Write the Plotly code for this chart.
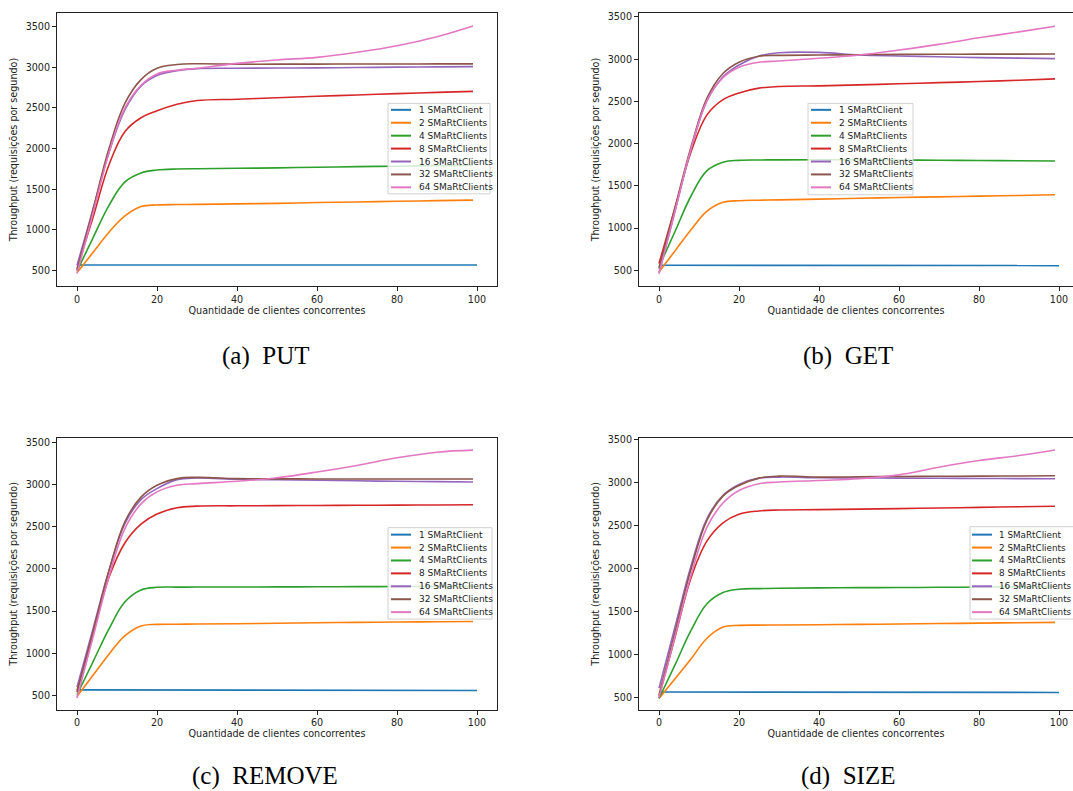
import plotly.graph_objects as go

W, H = 1073, 791

# ---------------- data ----------------
series_names = ["1 SMaRtClient", "2 SMaRtClients", "4 SMaRtClients", "8 SMaRtClients",
                "16 SMaRtClients", "32 SMaRtClients", "64 SMaRtClients"]
colors = ["#1f77b4", "#ff7f0e", "#2ca02c", "#d62728", "#9467bd", "#8c564b", "#e377c2"]

x_one = [0, 100]
x_many = [0, 4, 8, 12, 16, 20, 25, 30, 40, 50, 60, 70, 80, 90, 99]

# (a) PUT
put_1 = [565, 565]
put_2 = [470, 720, 970, 1170, 1285, 1305, 1310, 1312, 1318, 1325, 1335, 1342, 1350, 1358, 1365]
put_4 = [490, 900, 1300, 1590, 1700, 1735, 1748, 1752, 1757, 1762, 1770, 1777, 1783, 1789, 1794]
put_8 = [520, 1150, 1800, 2210, 2380, 2465, 2545, 2592, 2608, 2626, 2645, 2660, 2677, 2692, 2705]
put_16 = [560, 1250, 1950, 2480, 2770, 2900, 2960, 2985, 2990, 2992, 2994, 2998, 3003, 3007, 3010]
put_32 = [500, 1250, 2000, 2560, 2850, 2990, 3035, 3045, 3040, 3040, 3041, 3042, 3042, 3043, 3043]
put_64 = [460, 1200, 1950, 2500, 2780, 2920, 2965, 2990, 3050, 3092, 3124, 3186, 3267, 3378, 3510]

# (b) GET
get_1 = [560, 556]
get_2 = [480, 730, 980, 1200, 1305, 1324, 1330, 1334, 1343, 1353, 1363, 1370, 1378, 1386, 1394]
get_4 = [540, 960, 1380, 1680, 1780, 1802, 1806, 1808, 1810, 1808, 1806, 1803, 1800, 1797, 1794]
get_8 = [580, 1240, 1900, 2340, 2520, 2600, 2657, 2676, 2684, 2696, 2708, 2722, 2735, 2750, 2767]
get_16 = [470, 1200, 1930, 2510, 2790, 2931, 3037, 3076, 3080, 3049, 3037, 3028, 3018, 3012, 3006]
get_32 = [520, 1240, 1960, 2540, 2830, 2963, 3035, 3045, 3049, 3052, 3057, 3058, 3059, 3060, 3061]
get_64 = [460, 1200, 1940, 2510, 2780, 2904, 2963, 2978, 3010, 3049, 3108, 3175, 3253, 3323, 3390]

# (c) REMOVE
rem_1 = [567, 561]
rem_2 = [490, 740, 990, 1210, 1325, 1343, 1345, 1347, 1351, 1357, 1363, 1367, 1371, 1375, 1378]
rem_4 = [510, 900, 1290, 1610, 1750, 1782, 1784, 1785, 1786, 1787, 1788, 1790, 1791, 1793, 1794]
rem_8 = [560, 1230, 1900, 2310, 2530, 2649, 2724, 2743, 2747, 2749, 2751, 2753, 2755, 2757, 2759]
rem_16 = [600, 1290, 1980, 2540, 2820, 2951, 3057, 3076, 3061, 3055, 3049, 3043, 3037, 3033, 3029]
rem_32 = [540, 1260, 1980, 2560, 2850, 2990, 3069, 3084, 3069, 3066, 3065, 3065, 3065, 3065, 3065]
rem_64 = [470, 1190, 1910, 2480, 2770, 2912, 2990, 3010, 3037, 3080, 3147, 3225, 3316, 3382, 3406]

# (d) SIZE
size_1 = [565, 560]
size_2 = [490, 720, 950, 1190, 1320, 1339, 1342, 1344, 1347, 1351, 1355, 1360, 1365, 1370, 1374]
size_4 = [490, 880, 1280, 1590, 1720, 1759, 1766, 1770, 1775, 1777, 1778, 1781, 1784, 1787, 1790]
size_8 = [510, 1200, 1890, 2320, 2530, 2629, 2668, 2679, 2683, 2689, 2695, 2702, 2709, 2716, 2722]
size_16 = [610, 1320, 2030, 2580, 2850, 2976, 3049, 3061, 3053, 3051, 3049, 3047, 3045, 3043, 3041]
size_32 = [530, 1260, 1990, 2560, 2840, 2964, 3049, 3072, 3061, 3064, 3068, 3070, 3072, 3074, 3076]
size_64 = [500, 1210, 1920, 2480, 2760, 2906, 2984, 3003, 3022, 3041, 3087, 3176, 3253, 3311, 3376]

captions = ["(a)  PUT", "(b)  GET", "(c)  REMOVE", "(d)  SIZE"]
x_title = "Quantidade de clientes concorrentes"
y_title = "Throughput (requisições por segundo)"
x_ticks = [0, 20, 40, 60, 80, 100]
y_ticks = [500, 1000, 1500, 2000, 2500, 3000, 3500]

panels_data = [
    [put_1, put_2, put_4, put_8, put_16, put_32, put_64],
    [get_1, get_2, get_4, get_8, get_16, get_32, get_64],
    [rem_1, rem_2, rem_4, rem_8, rem_16, rem_32, rem_64],
    [size_1, size_2, size_4, size_8, size_16, size_32, size_64],
]

# ---------------- layout geometry (pixels) ----------------
def px(x):
    return x / W

def py(y):
    return 1 - y / H

panels = [
    dict(l=57, r=497, t=8, b=283, xr=[-5, 105], yr=[304, 3671], mirror_y=True,
         cap=(265, 353), leg=(388, 490, 99, 190), leg_line=(391, 411), leg_txt=417,
         rows0=105.5, lfs=9),
    dict(l=639, r=1073, t=8, b=283, xr=[-5, 103.5], yr=[312, 3547], mirror_y=False,
         cap=(848, 353), leg=(808, 913, 99, 191), leg_line=(811, 831), leg_txt=837,
         rows0=105.5, lfs=9),
    dict(l=57, r=497, t=436, b=709, xr=[-5, 105], yr=[335, 3547], mirror_y=True,
         cap=(265, 776), leg=(388, 492, 526, 618), leg_line=(391, 411), leg_txt=417,
         rows0=533, lfs=9),
    dict(l=639, r=1073, t=436, b=709, xr=[-5, 103.5], yr=[362, 3512], mirror_y=False,
         cap=(848, 776), leg=(970, 1076, 525, 618), leg_line=(972, 992), leg_txt=997,
         rows0=533, lfs=8.8),
]

FONT = "DejaVu Sans"
fig = go.Figure()
shapes = []
annotations = []

for i, (p, data) in enumerate(zip(panels, panels_data)):
    n = "" if i == 0 else str(i + 1)
    xa, ya = "x" + n, "y" + n
    for j, (name, col, ys) in enumerate(zip(series_names, colors, data)):
        xs = x_one if j == 0 else x_many
        fig.add_trace(go.Scatter(
            x=xs, y=ys, mode="lines", name=name, showlegend=False,
            line=dict(color=col, width=1.6, shape="spline", smoothing=1.1),
            xaxis=xa, yaxis=ya, hoverinfo="skip"))
    axis_common = dict(showgrid=False, zeroline=False, showline=True, linecolor="#222",
                       linewidth=1, ticks="outside", ticklen=4, tickwidth=1, tickcolor="#222",
                       tickfont=dict(family=FONT, size=9.6, color="#222"))
    fig.layout["xaxis" + n] = dict(
        axis_common, domain=[px(p["l"]), px(p["r"])], range=p["xr"], anchor=ya,
        tickvals=x_ticks, mirror=True,
        title=dict(text=x_title, font=dict(family=FONT, size=9.6, color="#222"), standoff=3))
    fig.layout["yaxis" + n] = dict(
        axis_common, domain=[py(p["b"]), py(p["t"])], range=p["yr"], anchor=xa,
        tickvals=y_ticks, mirror=p["mirror_y"],
        title=dict(text=y_title, font=dict(family=FONT, size=9.6, color="#222"), standoff=6))

    # legend box
    lx0, lx1, ly0, ly1 = p["leg"]
    shapes.append(dict(type="rect", xref="paper", yref="paper",
                       x0=px(lx0), x1=px(lx1), y0=py(ly1), y1=py(ly0),
                       line=dict(color="#d0d0d0", width=1), fillcolor="rgba(255,255,255,0.8)",
                       layer="above"))
    for j, (name, col) in enumerate(zip(series_names, colors)):
        yy = p["rows0"] + 13 * j
        shapes.append(dict(type="line", xref="paper", yref="paper",
                           x0=px(p["leg_line"][0]), x1=px(p["leg_line"][1]),
                           y0=py(yy), y1=py(yy), line=dict(color=col, width=2), layer="above"))
        annotations.append(dict(text=name, xref="paper", yref="paper", x=px(p["leg_txt"]),
                                y=py(yy), xanchor="left", yanchor="middle", showarrow=False,
                                font=dict(family=FONT, size=p["lfs"], color="#222")))
    cx, cy = p["cap"]
    annotations.append(dict(text=captions[i], xref="paper", yref="paper", x=px(cx), y=py(cy),
                            xanchor="center", yanchor="middle", showarrow=False,
                            font=dict(family="Liberation Serif", size=25, color="black")))

fig.update_layout(
    width=W, height=H, margin=dict(l=0, r=0, t=0, b=0),
    paper_bgcolor="white", plot_bgcolor="white", showlegend=False,
    shapes=shapes, annotations=annotations,
)

fig.write_html("out.html", config={"displayModeBar": False},
               post_script="document.body.style.margin='0';document.body.style.overflow='hidden';")
